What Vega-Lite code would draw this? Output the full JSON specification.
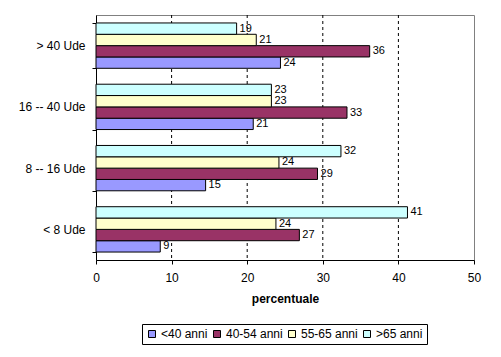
{
  "$schema": "https://vega.github.io/schema/vega-lite/v6.json",
  "width": 378,
  "height": 245,
  "autosize": {"type": "none"},
  "padding": {"left": 96, "top": 15, "right": 27, "bottom": 97},
  "background": "white",
  "config": {
    "font": "Liberation Sans",
    "view": {"stroke": "#808080", "strokeWidth": 1},
    "axis": {"labelFont": "Liberation Sans", "labelFontSize": 12, "labelColor": "black", "domainColor": "black", "tickColor": "black", "titleFont": "Liberation Sans", "titleColor": "black"}
  },
  "data": {
    "values": [
      {"ude": "> 40 Ude", "age": "<40 anni", "pct": 24.4},
      {"ude": "> 40 Ude", "age": "40-54 anni", "pct": 36.2},
      {"ude": "> 40 Ude", "age": "55-65 anni", "pct": 21.2},
      {"ude": "> 40 Ude", "age": ">65 anni", "pct": 18.6},
      {"ude": "16 -- 40 Ude", "age": "<40 anni", "pct": 20.8},
      {"ude": "16 -- 40 Ude", "age": "40-54 anni", "pct": 33.2},
      {"ude": "16 -- 40 Ude", "age": "55-65 anni", "pct": 23.2},
      {"ude": "16 -- 40 Ude", "age": ">65 anni", "pct": 23.2},
      {"ude": "8 -- 16 Ude", "age": "<40 anni", "pct": 14.5},
      {"ude": "8 -- 16 Ude", "age": "40-54 anni", "pct": 29.3},
      {"ude": "8 -- 16 Ude", "age": "55-65 anni", "pct": 24.2},
      {"ude": "8 -- 16 Ude", "age": ">65 anni", "pct": 32.4},
      {"ude": "< 8 Ude", "age": "<40 anni", "pct": 8.5},
      {"ude": "< 8 Ude", "age": "40-54 anni", "pct": 26.9},
      {"ude": "< 8 Ude", "age": "55-65 anni", "pct": 23.8},
      {"ude": "< 8 Ude", "age": ">65 anni", "pct": 41.2}
    ]
  },
  "encoding": {
    "y": {
      "field": "ude", "type": "nominal",
      "scale": {"domain": ["> 40 Ude", "16 -- 40 Ude", "8 -- 16 Ude", "< 8 Ude"], "paddingInner": 0.26, "paddingOuter": 0.13},
      "axis": {"title": null, "tickBand": "extent", "tickSize": 4, "labelPadding": 7, "domainWidth": 1}
    },
    "yOffset": {
      "field": "age", "type": "nominal",
      "scale": {"domain": [">65 anni", "55-65 anni", "40-54 anni", "<40 anni"], "paddingInner": 0, "paddingOuter": 0}
    },
    "x": {
      "field": "pct", "type": "quantitative",
      "scale": {"domain": [0, 50], "nice": false},
      "axis": {"title": "percentuale", "titleFontSize": 12, "titleFontWeight": "bold", "titlePadding": 10, "values": [0, 10, 20, 30, 40, 50], "tickSize": 4, "labelPadding": 8, "labelFlush": false, "grid": false}
    }
  },
  "layer": [
    {
      "mark": {"type": "rule", "stroke": "black", "strokeDash": [3, 3], "strokeWidth": 1},
      "data": {"values": [{"g": 10}, {"g": 20}, {"g": 30}, {"g": 40}]},
      "encoding": {"x": {"field": "g", "type": "quantitative"}, "y": null, "yOffset": null}
    },
    {
      "mark": {"type": "bar", "stroke": "black", "strokeWidth": 1},
      "encoding": {
        "color": {
          "field": "age", "type": "nominal",
          "scale": {"domain": ["<40 anni", "40-54 anni", "55-65 anni", ">65 anni"], "range": ["#9999FF", "#993366", "#FFFFCC", "#CCFFFF"]},
          "legend": {
            "title": null, "orient": "none", "legendX": 46, "legendY": 309, "direction": "horizontal", "gridAlign": "none",
            "symbolType": "square", "symbolSize": 49, "symbolStrokeColor": "black", "symbolStrokeWidth": 1,
            "labelFont": "Liberation Sans", "labelFontSize": 12, "labelColor": "black", "labelOffset": 3,
            "columnPadding": 3, "strokeColor": "black", "padding": 4, "fillColor": "white"
          }
        }
      }
    },
    {
      "mark": {"type": "text", "align": "left", "baseline": "middle", "dx": 3, "fontSize": 11, "font": "Liberation Sans", "color": "black"},
      "encoding": {"text": {"field": "pct", "type": "quantitative", "format": ".0f"}}
    }
  ]
}
